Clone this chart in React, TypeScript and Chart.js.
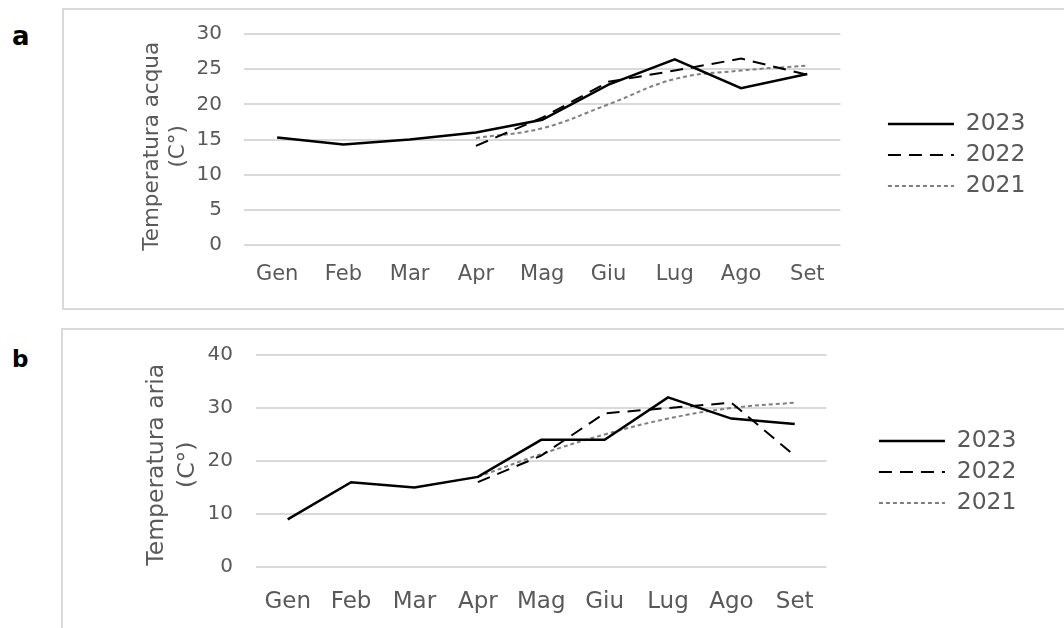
import React, { useEffect, useRef } from 'react';
import { Chart, registerables } from 'chart.js';

Chart.register(...registerables);

// ---------- data ----------
const months = ['Gen', 'Feb', 'Mar', 'Apr', 'Mag', 'Giu', 'Lug', 'Ago', 'Set'];
const seriesNames = ['2023', '2022', '2021'];

const water2023 = [15.3, 14.3, 15.0, 16.0, 17.8, 22.8, 26.4, 22.3, 24.3];
const water2022 = [null, null, null, 14.1, 18.1, 23.2, 24.8, 26.5, 24.2];
const water2021 = [null, null, null, 15.2, 16.6, 20.0, 23.6, 24.8, 25.5];

const air2023 = [9, 16, 15, 17, 24, 24, 32, 28, 27];
const air2022 = [null, null, null, 16, 21, 29, 30, 31, 21];
const air2021 = [null, null, null, 17, 21.3, 25, 28, 30, 31];

const waterTitle = ['Temperatura acqua  ', '(C°)  '];
const airTitle = ['Temperatura aria ', '(C°) '];

// ---------- styling ----------
const FONT = 'DejaVu Sans';
const TXT = '#595959';
const GRID = '#d9d9d9';

type Opts = {
  s2023: (number | null)[];
  s2022: (number | null)[];
  s2021: (number | null)[];
  yMax: number;
  yStep: number;
  title: string[];
  titleSize: number;
  titleLH: number;
  titlePad: number;
  yTickPad: number;
  yW: number;
  xFont: number;
  xPad: number;
  xH: number;
  topH: number;
  rightW: number;
  padRight: number;
};

function buildConfig(o: Opts): any {
  const seriesData = [o.s2023, o.s2022, o.s2021];
  const colors = ['#000000', '#000000', '#7f7f7f'];
  const widths = [2.5, 2, 2];
  const dashes = [[], [13, 8], [4, 3]];
  const tensions = [0, 0, 0.4];
  return {
    type: 'line',
    data: {
      labels: months,
      datasets: seriesNames.map((name, i) => ({
        label: name,
        data: seriesData[i],
        borderColor: colors[i],
        backgroundColor: colors[i],
        borderWidth: widths[i],
        borderDash: dashes[i],
        tension: tensions[i],
        pointRadius: 0,
        pointStyle: 'line',
        fill: false,
        xAxisID: 'x',
        yAxisID: 'y',
      })),
    },
    options: {
      responsive: false,
      animation: false,
      layout: { padding: { left: 0, top: 0, bottom: 0, right: o.padRight } },
      plugins: {
        legend: {
          position: 'right',
          align: 'center',
          labels: {
            usePointStyle: true,
            pointStyle: 'line',
            pointStyleWidth: 66,
            color: TXT,
            padding: 7.5,
            font: { family: FONT, size: 23.5 },
            generateLabels: (chart: any) => {
              const items = Chart.defaults.plugins.legend.labels.generateLabels(chart);
              return items.map((it: any) => {
                const ds = chart.data.datasets[it.datasetIndex];
                return {
                  ...it,
                  lineDash: ds.borderDash,
                  strokeStyle: ds.borderColor,
                  fillStyle: ds.borderColor,
                  lineWidth: ds.borderWidth,
                };
              });
            },
          },
        },
        tooltip: { enabled: false },
      },
      scales: {
        x: {
          type: 'category',
          position: 'bottom',
          offset: true,
          grid: { display: false, drawTicks: false },
          border: { display: false },
          ticks: {
            color: TXT,
            font: { family: FONT, size: o.xFont },
            padding: o.xPad,
            autoSkip: false,
            maxRotation: 0,
          },
          afterFit: (s: any) => {
            s.height = o.xH;
          },
        },
        xTop: {
          type: 'category',
          position: 'top',
          grid: { display: false, drawTicks: false },
          border: { display: false },
          ticks: { display: false },
          afterFit: (s: any) => {
            s.height = o.topH;
          },
        },
        y: {
          type: 'linear',
          position: 'left',
          min: 0,
          max: o.yMax,
          grid: { color: GRID, lineWidth: 2, drawTicks: false },
          border: { display: false },
          ticks: {
            stepSize: o.yStep,
            color: TXT,
            padding: o.yTickPad,
            font: { family: FONT, size: 20 },
          },
          title: {
            display: true,
            text: o.title,
            color: TXT,
            font: { family: FONT, size: o.titleSize, lineHeight: o.titleLH + 'px' },
            padding: { top: o.titlePad, bottom: 0 },
          },
          afterFit: (s: any) => {
            s.width = o.yW;
          },
        },
        yRight: {
          type: 'linear',
          position: 'right',
          grid: { display: false, drawTicks: false },
          border: { display: false },
          ticks: { display: false },
          afterFit: (s: any) => {
            s.width = o.rightW;
          },
        },
      },
    },
  };
}

function LineChart({ opts, w, h, style }: { opts: Opts; w: number; h: number; style: any }) {
  const ref = useRef<HTMLCanvasElement>(null);
  useEffect(() => {
    const chart = new Chart(ref.current as HTMLCanvasElement, buildConfig(opts));
    return () => chart.destroy();
  }, []);
  return <canvas ref={ref} width={w} height={h} style={style} />;
}

const waterOpts: Opts = {
  s2023: water2023,
  s2022: water2022,
  s2021: water2021,
  yMax: 30,
  yStep: 5,
  title: waterTitle,
  titleSize: 21.5,
  titleLH: 26,
  titlePad: 139.5,
  yTickPad: 22,
  yW: 244,
  xFont: 21,
  xPad: 17,
  xH: 65,
  topH: 34,
  rightW: 40,
  padRight: 28.5,
};

const airOpts: Opts = {
  s2023: air2023,
  s2022: air2022,
  s2021: air2021,
  yMax: 40,
  yStep: 10,
  title: airTitle,
  titleSize: 23.5,
  titleLH: 31,
  titlePad: 141,
  yTickPad: 23,
  yW: 256,
  xFont: 23,
  xPad: 21,
  xH: 57,
  topH: 34,
  rightW: 45,
  padRight: 37.5,
};

const boxStyle = (left: number, top: number, height: number): any => ({
  position: 'absolute',
  left,
  top,
  width: 1100,
  height,
  boxSizing: 'border-box',
  border: '2px solid #d9d9d9',
});

const letterStyle = (top: number, size: number): any => ({
  position: 'absolute',
  left: 12,
  top,
  fontFamily: FONT,
  fontWeight: 'bold',
  fontSize: size,
  lineHeight: size + 'px',
  color: '#000',
});

export default function App() {
  return (
    <div>
      <div style={boxStyle(62, 8, 302)} />
      <div style={boxStyle(61, 328, 400)} />
      <div style={letterStyle(23, 26)}>a</div>
      <div style={letterStyle(347.5, 23)}>b</div>
      <LineChart opts={waterOpts} w={1064} h={310} style={{ position: 'absolute', left: 0, top: 0 }} />
      <LineChart opts={airOpts} w={1064} h={304} style={{ position: 'absolute', left: 0, top: 320 }} />
    </div>
  );
}
